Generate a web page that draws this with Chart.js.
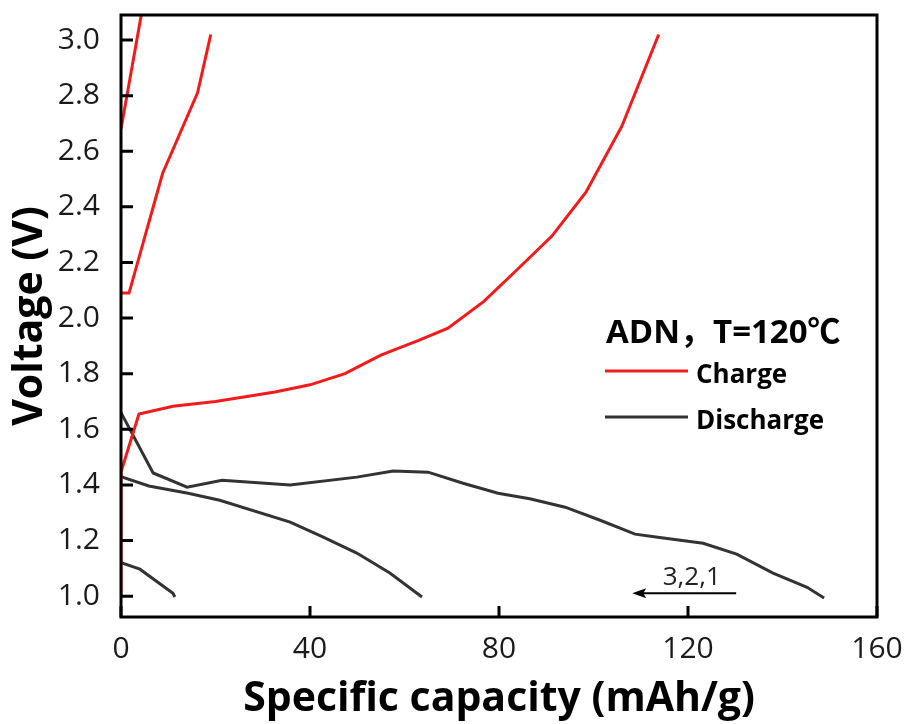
<!DOCTYPE html>
<html>
<head>
<meta charset="utf-8">
<script src="https://cdn.jsdelivr.net/npm/chart.js@4.4.1/dist/chart.umd.min.js"></script>
<style>
  html, body { margin: 0; padding: 0; background: #fff; }
  #wrap { width: 909px; height: 724px; }
</style>
</head>
<body>
<div id="wrap"><canvas id="canvas" width="909" height="724"></canvas></div>
<script>
// charge curves (red)
const chargeCap1 = [0, 0, 3.8, 11, 20, 32.6, 40, 47.4, 55, 63, 69.2, 76.8, 84.2, 91.2, 98.4, 106, 113.8];
const chargeV1 = [1.0, 1.446, 1.655, 1.683, 1.70, 1.734, 1.76, 1.80, 1.867, 1.92, 1.964, 2.06, 2.18, 2.295, 2.453, 2.69, 3.02];
const chargeCap2 = [0, 1.7, 8.8, 16.2, 19.0];
const chargeV2 = [2.09, 2.09, 2.52, 2.81, 3.02];
const chargeCap3 = [0, 4.6];
const chargeV3 = [2.68, 3.12];

// discharge curves (dark)
const dischCap1 = [0, 6.8, 14, 21.4, 35.8, 49.9, 57.6, 65, 72.4, 79.8, 86.5, 94, 101.4, 108.8, 113.6, 123.2, 130.3, 138, 145.2, 148.8];
const dischV1 = [1.66, 1.443, 1.392, 1.417, 1.40, 1.428, 1.45, 1.446, 1.406, 1.37, 1.35, 1.32, 1.273, 1.223, 1.212, 1.19, 1.151, 1.083, 1.032, 0.993];
const dischCap2 = [0, 5.9, 14.2, 20.9, 35.8, 42.7, 49.9, 56.9, 63.7];
const dischV2 = [1.43, 1.396, 1.37, 1.345, 1.266, 1.213, 1.155, 1.083, 0.997];
const dischCap3 = [0, 4, 11, 11.4];
const dischV3 = [1.12, 1.097, 1.01, 0.997];

const xTicks = [0, 40, 80, 120, 160];
const yTicks = [1.0, 1.2, 1.4, 1.6, 1.8, 2.0, 2.2, 2.4, 2.6, 2.8, 3.0];

const legendTitle = 'ADN，T=120℃';
const legendNames = ['Charge', 'Discharge'];
const arrowLabel = '3,2,1';

const red = '#f21b1b';
const dark = '#333333';
const fontFam = "'Open Sans', 'Noto Sans CJK SC', sans-serif";

function pts(xs, ys) {
    return xs.map((x, i) => ({ x: x, y: ys[i] }));
}

function line(xs, ys, color) {
    return {
        data: pts(xs, ys),
        borderColor: color,
        borderWidth: 3,
        pointRadius: 0,
        fill: false,
        tension: 0,
    };
}

const decor = {
    id: 'decor',
    afterDatasetsDraw(chart) {
        const ctx = chart.ctx;
        const a = chart.chartArea;
        const xs = chart.scales.x;
        const ys = chart.scales.y;
        ctx.save();
        // frame
        ctx.strokeStyle = '#000';
        ctx.lineWidth = 3;
        ctx.strokeRect(a.left, a.top, a.right - a.left, a.bottom - a.top);
        // inward ticks
        ctx.beginPath();
        xTicks.forEach((v) => {
            const px = xs.getPixelForValue(v);
            ctx.moveTo(px, a.bottom);
            ctx.lineTo(px, a.bottom - 11);
        });
        yTicks.forEach((v) => {
            const py = ys.getPixelForValue(v);
            ctx.moveTo(a.left, py);
            ctx.lineTo(a.left + 12, py);
        });
        ctx.stroke();

        // legend
        ctx.fillStyle = '#000';
        ctx.textBaseline = 'alphabetic';
        ctx.textAlign = 'left';
        ctx.font = 'bold 33px ' + fontFam;
        ctx.fillText(legendTitle, 606, 343);
        ctx.font = 'bold 26px ' + fontFam;
        const colors = [red, dark];
        const rows = [371, 417];
        rows.forEach((y, i) => {
            ctx.strokeStyle = colors[i];
            ctx.lineWidth = 3;
            ctx.beginPath();
            ctx.moveTo(605, y);
            ctx.lineTo(688, y);
            ctx.stroke();
            ctx.fillText(legendNames[i], 696, y + 12);
        });

        // arrow annotation
        const ax1 = xs.getPixelForValue(130.2);
        const ax0 = xs.getPixelForValue(108.2);
        const ay = ys.getPixelForValue(1.01);
        ctx.strokeStyle = '#000';
        ctx.fillStyle = '#000';
        ctx.lineWidth = 2;
        ctx.beginPath();
        ctx.moveTo(ax1, ay);
        ctx.lineTo(ax0 + 10, ay);
        ctx.stroke();
        ctx.beginPath();
        ctx.moveTo(ax0, ay);
        ctx.lineTo(ax0 + 14, ay - 5);
        ctx.lineTo(ax0 + 11, ay);
        ctx.lineTo(ax0 + 14, ay + 5);
        ctx.closePath();
        ctx.fill();
        ctx.font = '26px ' + fontFam;
        ctx.textAlign = 'center';
        ctx.fillStyle = '#222';
        ctx.fillText(arrowLabel, xs.getPixelForValue(120.8), ys.getPixelForValue(1.0) - 11);
        ctx.restore();
    },
};

new Chart('canvas', {
    type: 'line',
    data: {
        datasets: [
            line(chargeCap1, chargeV1, red),
            line(chargeCap2, chargeV2, red),
            line(chargeCap3, chargeV3, red),
            line(dischCap1, dischV1, dark),
            line(dischCap2, dischV2, dark),
            line(dischCap3, dischV3, dark),
        ],
    },
    options: {
        responsive: false,
        animation: false,
        layout: { padding: { top: 15, right: 32, left: 0, bottom: 0 } },
        plugins: {
            legend: { display: false },
            tooltip: { enabled: false },
        },
        scales: {
            x: {
                type: 'linear',
                min: 0,
                max: 160,
                grid: { display: false },
                border: { display: false },
                afterBuildTicks: (s) => { s.ticks = xTicks.map((v) => ({ value: v })); },
                afterFit: (s) => { s.height = 107; s.paddingLeft = 0; s.paddingRight = 0; },
                ticks: {
                    color: '#1a1a1a',
                    padding: 6,
                    maxRotation: 0,
                    font: { family: fontFam, size: 30 },
                },
                title: {
                    display: true,
                    text: 'Specific capacity (mAh/g)',
                    color: '#000',
                    padding: { top: 0, bottom: 0 },
                    font: { family: fontFam, size: 41, weight: 'bold' },
                },
            },
            y: {
                type: 'linear',
                min: 0.925,
                max: 3.09,
                grid: { display: false },
                border: { display: false },
                afterBuildTicks: (s) => { s.ticks = yTicks.map((v) => ({ value: v })); },
                afterFit: (s) => { s.width = 121; s.paddingTop = 0; s.paddingBottom = 0; },
                ticks: {
                    color: '#1a1a1a',
                    padding: 13,
                    callback: (v) => v.toFixed(1),
                    font: { family: fontFam, size: 30 },
                },
                title: {
                    display: true,
                    text: 'Voltage (V)',
                    color: '#000',
                    padding: { top: 6, bottom: 0 },
                    font: { family: fontFam, size: 41, weight: 'bold' },
                },
            },
        },
    },
    plugins: [decor],
});
</script>
</body>
</html>
